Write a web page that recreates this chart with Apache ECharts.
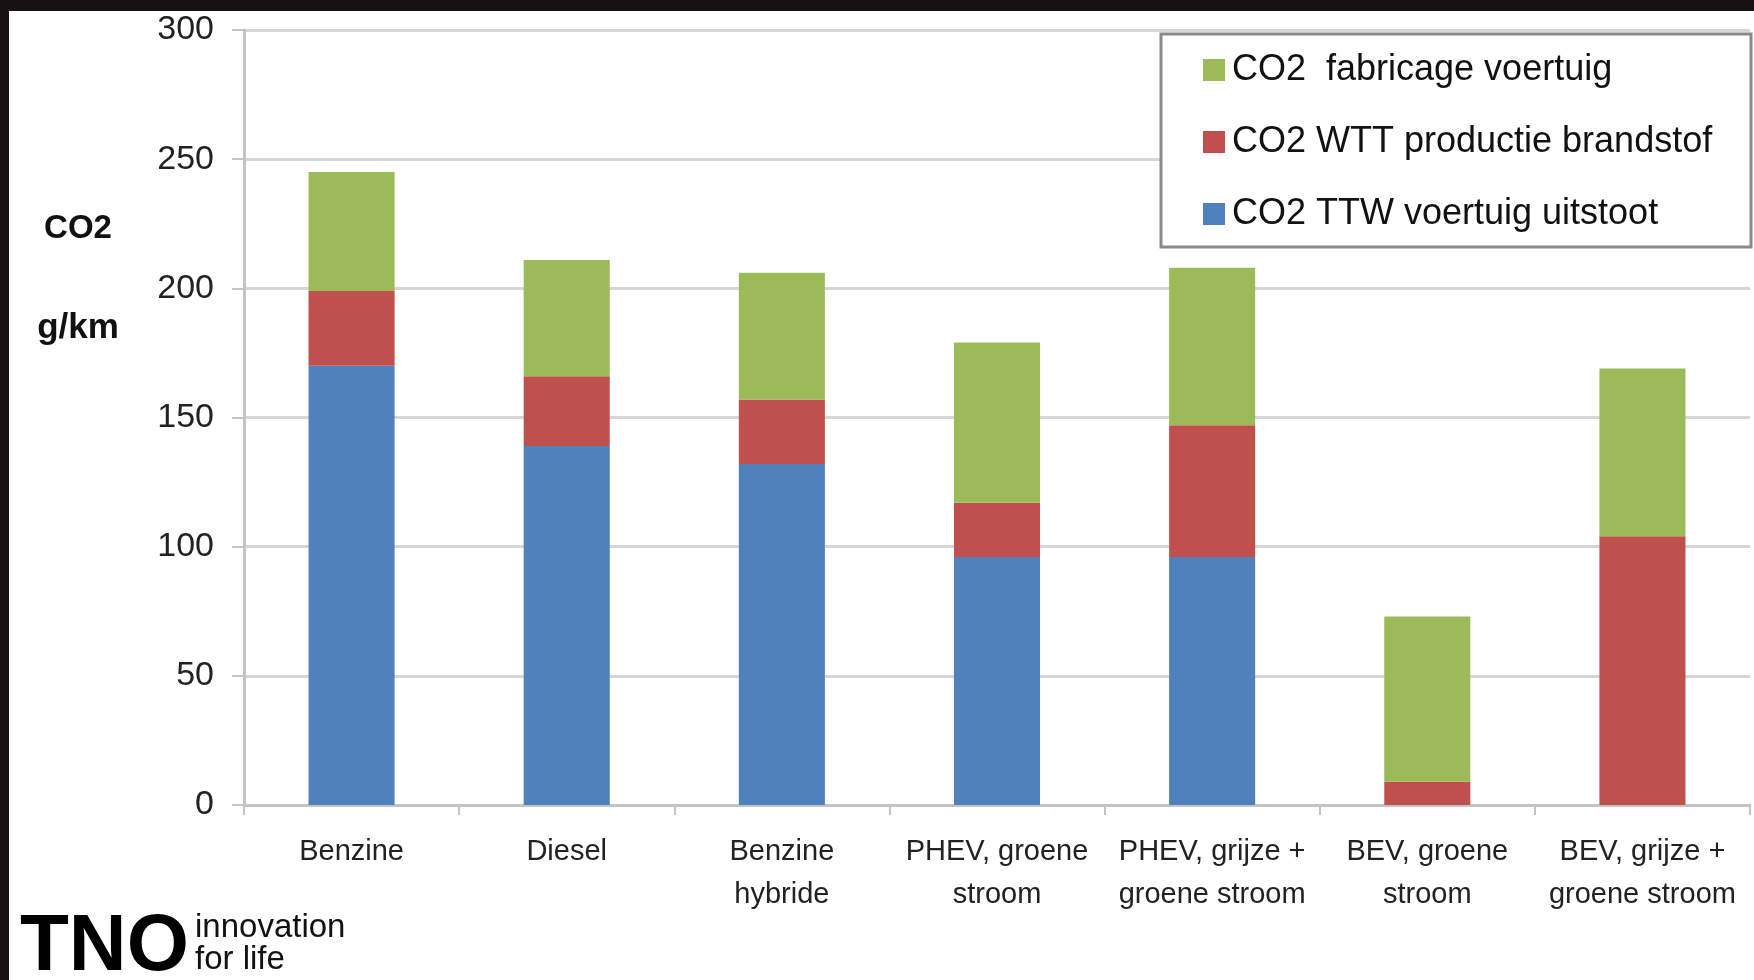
<!DOCTYPE html>
<html>
<head>
<meta charset="utf-8">
<script src="https://cdn.jsdelivr.net/npm/echarts@6/dist/echarts.min.js"></script>
<style>
html,body{margin:0;padding:0;width:1754px;height:980px;background:#171111;overflow:hidden;}
#chart{position:absolute;left:9px;top:11px;width:1745px;height:969px;background:#ffffff;}
</style>
</head>
<body>
<div id="chart"></div>
<script>
const categories = ['Benzine', 'Diesel', 'Benzine\nhybride', 'PHEV, groene\nstroom', 'PHEV, grijze +\ngroene stroom', 'BEV, groene\nstroom', 'BEV, grijze +\ngroene stroom'];
const seriesNames = ['CO2 TTW voertuig uitstoot', 'CO2 WTT productie brandstof', 'CO2  fabricage voertuig'];
const ttw = [170, 139, 132, 96, 96, 0, 0];
const wtt = [29, 27, 25, 21, 51, 9, 104];
const fab = [46, 45, 49, 62, 61, 64, 65];
const colors = ['#4f81bd', '#c0504d', '#9bbb59'];
const yTicks = [0, 300, 50];

const FONT = "'Liberation Sans', sans-serif";
const chart = echarts.init(document.getElementById('chart'));
const values = [ttw, wtt, fab];
chart.setOption({
  animation: false,
  textStyle: { fontFamily: FONT },
  grid: { left: 235, right: 4, top: 19, bottom: 175 },
  legend: {
    orient: 'vertical',
    left: 1189,
    top: 34,
    z: 60,
    data: [seriesNames[2], seriesNames[1], seriesNames[0]],
    itemWidth: 22,
    itemHeight: 22,
    itemGap: 32,
    icon: 'rect',
    selectedMode: false,
    textStyle: { fontSize: 36, color: '#111', fontFamily: FONT, lineHeight: 40, padding: [0, 0, 0, 2] }
  },
  xAxis: {
    type: 'category',
    data: categories,
    axisLine: { lineStyle: { color: '#c4c4c4', width: 3 } },
    axisTick: { show: true, alignWithLabel: false, length: 10, lineStyle: { color: '#c4c4c4', width: 2 } },
    axisLabel: { interval: 0, fontSize: 29, color: '#222', lineHeight: 43, margin: 25, fontFamily: FONT }
  },
  yAxis: {
    type: 'value',
    min: yTicks[0], max: yTicks[1], interval: yTicks[2],
    axisLine: { show: true, lineStyle: { color: '#c4c4c4', width: 3 } },
    axisTick: { show: true, length: 12, lineStyle: { color: '#c4c4c4', width: 2 } },
    axisLabel: { fontSize: 34, color: '#222', margin: 30, fontFamily: FONT },
    splitLine: { lineStyle: { color: '#d6d6d6', width: 3 } }
  },
  series: values.map((v, i) => ({
    name: seriesNames[i],
    type: 'bar',
    stack: 'co2',
    data: v,
    barWidth: '40%',
    itemStyle: { color: colors[i] }
  })),
  graphic: [
    { type: 'rect', z: 50, shape: { x: 1152, y: 23, width: 590, height: 213 }, style: { fill: '#ffffff', stroke: '#8a8a8a', lineWidth: 3 } },
    { type: 'text', x: 69, y: 218, style: { text: 'CO2', fontSize: 33, fontWeight: 'bold', fill: '#111', textAlign: 'center', textVerticalAlign: 'middle', fontFamily: FONT } },
    { type: 'text', x: 69, y: 317, style: { text: 'g/km', fontSize: 35, fontWeight: 'bold', fill: '#111', textAlign: 'center', textVerticalAlign: 'middle', fontFamily: FONT } },
    { type: 'text', x: 11, y: 937, style: { text: 'TNO', fontSize: 80, fontWeight: 900, fill: '#000', textAlign: 'left', textVerticalAlign: 'middle', fontFamily: FONT } },
    { type: 'text', x: 186, y: 917, style: { text: 'innovation', fontSize: 33, fill: '#111', textAlign: 'left', textVerticalAlign: 'middle', fontFamily: FONT } },
    { type: 'text', x: 186, y: 949, style: { text: 'for life', fontSize: 33, fill: '#111', textAlign: 'left', textVerticalAlign: 'middle', fontFamily: FONT } }
  ]
});
</script>
</body>
</html>
